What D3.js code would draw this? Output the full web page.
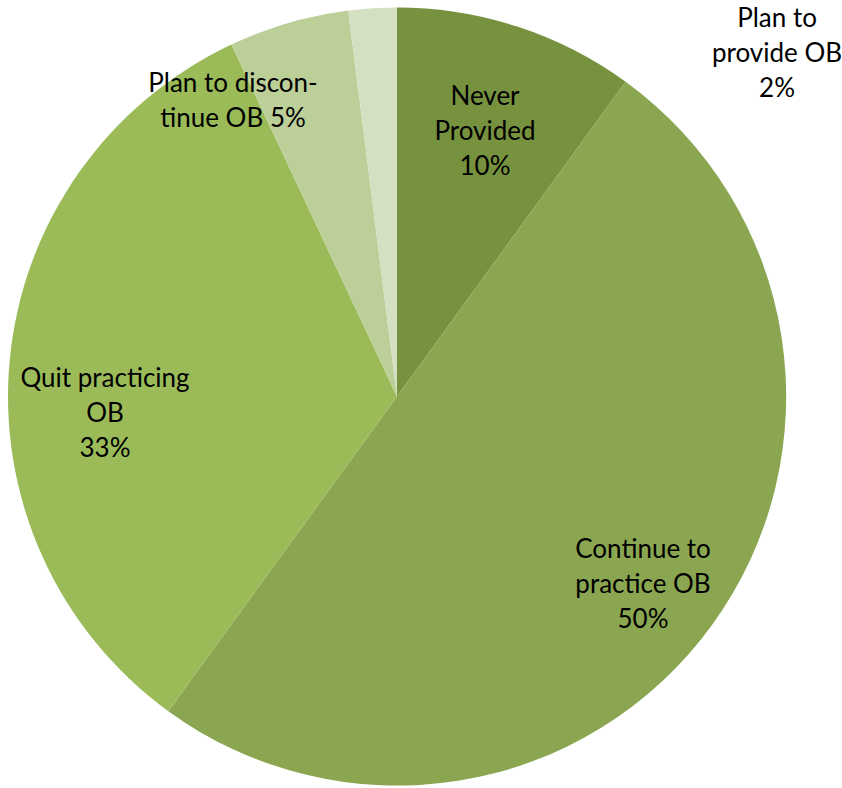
<!DOCTYPE html>
<html>
<head>
<meta charset="utf-8">
<script src="https://cdn.jsdelivr.net/npm/d3@7"></script>
<style>
  body { margin: 0; background: #fff; }
  text { font-family: Lato, "Open Sans", sans-serif; fill: #000; }
</style>
</head>
<body>
<div id="chart"></div>
<script>
(function() {

  // slices, clockwise from 12 o'clock
  const categories = ["Never Provided", "Continue to practice OB", "Quit practicing OB", "Plan to discontinue OB", "Plan to provide OB"]
  const values = [10, 50, 33, 5, 2]
  const labelLines = [
    ["Never", "Provided", "10%"],
    ["Continue to", "practice OB", "50%"],
    ["Quit practicing", "OB", "33%"],
    ["Plan to discon-", "tinue OB 5%"],
    ["Plan to", "provide OB", "2%"]
  ]
  const colors = ["#77923f", "#8aa651", "#9bbb59", "#bccf99", "#d3e0c1"]

  // label centres relative to pie centre (placed like the original)
  const labelAt = [[88, -266], [246, 187], [-292, 16], [-164, -296], [380, -344]]

  const width = 842
  const height = 788
  const cx = 397, cy = 396.5, radius = 389
  const lineH = 35

  const svg = d3.select("#chart")
    .append("svg")
      .attr("width", width)
      .attr("height", height)
    .append("g")
      .attr("transform", "translate(" + cx + "," + cy + ")")

  const data = categories.map((c, i) => ({ name: c, value: values[i], i }))

  const pie = d3.pie()
    .sort(null)
    .value(d => d.value)

  const arc = d3.arc()
    .innerRadius(0)
    .outerRadius(radius)

  const arcs = pie(data)

  svg.selectAll("path")
    .data(arcs)
    .enter().append("path")
      .attr("d", arc)
      .attr("fill", d => colors[d.data.i])

  const labels = svg.selectAll("text.lbl")
    .data(arcs)
    .enter().append("text")
      .attr("class", "lbl")
      .attr("text-anchor", "middle")
      .attr("font-size", 26)
      .attr("transform", d => "translate(" + labelAt[d.data.i][0] + "," + labelAt[d.data.i][1] + ")")

  labels.each(function(d) {
    const lines = labelLines[d.data.i]
    const t = d3.select(this)
    lines.forEach((l, k) => {
      t.append("tspan")
        .attr("x", 0)
        .attr("y", (k - (lines.length - 1) / 2) * lineH)
        .attr("dy", "0.35em")
        .text(l)
    })
  })

})();
</script>
</body>
</html>
